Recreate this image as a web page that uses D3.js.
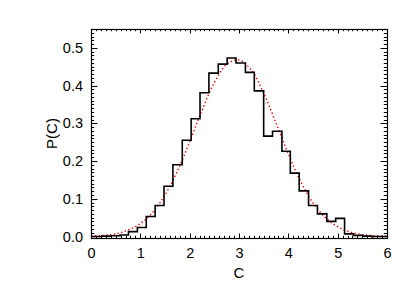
<!DOCTYPE html>
<html>
<head>
<meta charset="utf-8">
<script src="https://cdn.jsdelivr.net/npm/d3@7"></script>
<style>
    body { margin: 0; background: #fff; }
    svg { display: block; }
    text { font-family: "Liberation Sans", Arial, sans-serif; fill: #000; }
</style>
</head>
<body>
<div id="chart"></div>
<script>
// histogram bins: lower edges and heights
var binEdges = [0.04, 0.22, 0.41, 0.59, 0.76, 0.94, 1.12, 1.30, 1.48, 1.66, 1.85,
    2.03, 2.21, 2.39, 2.58, 2.76, 2.94, 3.13, 3.31, 3.50, 3.68, 3.87, 4.04,
    4.22, 4.41, 4.59, 4.78, 4.96, 5.14, 5.32, 5.51, 5.69, 5.87, 6.05];
var binValues = [0.000, 0.001, 0.002, 0.004, 0.013, 0.024, 0.053, 0.082, 0.133, 0.190, 0.255,
    0.312, 0.381, 0.433, 0.457, 0.473, 0.460, 0.435, 0.386, 0.266, 0.279, 0.226, 0.168,
    0.121, 0.082, 0.060, 0.040, 0.048, 0.007, 0.003, 0.001, 0.000, 0.000];

// dotted red fit curve
var fitC = [0, 0.25, 0.5, 0.75, 1, 1.25, 1.5, 1.75, 2, 2.25, 2.5, 2.75, 3,
    3.25, 3.5, 3.75, 4, 4.25, 4.5, 4.75, 5, 5.25, 5.5, 5.75, 6];
var fitP = [0.001, 0.003, 0.007, 0.017, 0.034, 0.064, 0.110, 0.173, 0.251, 0.334, 0.408, 0.456, 0.468,
    0.441, 0.380, 0.301, 0.219, 0.146, 0.089, 0.050, 0.026, 0.012, 0.005, 0.002, 0.001];

var xTicks = [0, 1, 2, 3, 4, 5, 6];
var yTicks = [0.0, 0.1, 0.2, 0.3, 0.4, 0.5];

var width = 415, height = 297;
var margin = {left: 91, right: 28, top: 29, bottom: 59};
var plotW = width - margin.left - margin.right;
var plotH = height - margin.top - margin.bottom;

var svg = d3.select('#chart').append('svg')
    .attr('width', width)
    .attr('height', height);

var x = d3.scaleLinear().domain([0, 6]).range([0, plotW]);
var y = d3.scaleLinear().domain([-0.004, 0.55]).range([plotH, 0]);

var g = svg.append('g')
    .attr('transform', 'translate(' + margin.left + ',' + margin.top + ')');

g.append('clipPath')
    .attr('id', 'plotclip')
    .append('rect')
    .attr('width', plotW)
    .attr('height', plotH);

// fit curve
var fitLine = d3.line()
    .x(function(d, i) { return x(fitC[i]); })
    .y(function(d) { return y(d); })
    .curve(d3.curveCatmullRom);

g.append('path')
    .attr('clip-path', 'url(#plotclip)')
    .attr('d', fitLine(fitP))
    .attr('fill', 'none')
    .attr('stroke', '#ff0000')
    .attr('stroke-width', 1.4)
    .attr('stroke-dasharray', '1.4,2.4');

// step histogram
var stepPts = binValues.map(function(v, i) { return [binEdges[i], v]; });
stepPts.push([binEdges[binEdges.length - 1], binValues[binValues.length - 1]]);
stepPts.unshift([0, binValues[0]]);

var stepLine = d3.line()
    .x(function(d) { return x(d[0]); })
    .y(function(d) { return y(d[1]); })
    .curve(d3.curveStepAfter);

g.append('path')
    .attr('clip-path', 'url(#plotclip)')
    .attr('d', stepLine(stepPts))
    .attr('fill', 'none')
    .attr('stroke', '#000')
    .attr('stroke-width', 1.6);

// frame with inward ticks on all four sides
var xMinor = d3.range(0, 61).map(function(i) { return i / 10; });
var yMinor = d3.range(0, 56).map(function(i) { return i / 100; });

var axisBottom = d3.axisBottom(x).tickValues(xTicks).tickSize(0).tickPadding(10)
    .tickFormat(d3.format('d'));
var axisLeft = d3.axisLeft(y).tickValues(yTicks).tickSize(0).tickPadding(8)
    .tickFormat(d3.format('.1f'));

g.append('g')
    .attr('transform', 'translate(0,' + plotH + ')')
    .call(axisBottom)
    .call(function(sel) {
        sel.select('.domain').remove();
        sel.selectAll('text').attr('font-size', 14.5).attr('dy', '0.71em');
    });

g.append('g')
    .call(axisLeft)
    .call(function(sel) {
        sel.select('.domain').remove();
        sel.selectAll('text').attr('font-size', 14.5);
    });

var ticks = g.append('g')
    .attr('stroke', '#000')
    .attr('stroke-width', 1);

function isMajor(v, list) {
    return list.some(function(t) { return Math.abs(t - v) < 1e-6; });
}

xMinor.forEach(function(v) {
    var len = isMajor(v, xTicks) ? 4.5 : 2.2;
    var px = Math.round(x(v)) + 0.5;
    ticks.append('line').attr('x1', px).attr('x2', px).attr('y1', plotH).attr('y2', plotH - len);
    ticks.append('line').attr('x1', px).attr('x2', px).attr('y1', 0).attr('y2', len);
});

yMinor.forEach(function(v) {
    var len = isMajor(v, yTicks) ? 6.5 : 3.2;
    var py = Math.round(y(v)) + 0.5;
    ticks.append('line').attr('x1', 0).attr('x2', len).attr('y1', py).attr('y2', py);
    ticks.append('line').attr('x1', plotW).attr('x2', plotW - len).attr('y1', py).attr('y2', py);
});

g.append('rect')
    .attr('x', 0.5)
    .attr('y', 0.5)
    .attr('width', plotW)
    .attr('height', plotH)
    .attr('fill', 'none')
    .attr('stroke', '#000')
    .attr('stroke-width', 1.2);

// axis titles
g.append('text')
    .attr('x', plotW / 2)
    .attr('y', plotH + 40)
    .attr('text-anchor', 'middle')
    .attr('font-size', 15)
    .text('C');

g.append('text')
    .attr('transform', 'translate(' + (-34) + ',' + (plotH / 2) + ') rotate(-90)')
    .attr('text-anchor', 'middle')
    .attr('font-size', 15)
    .text('P(C)');
</script>
</body>
</html>
